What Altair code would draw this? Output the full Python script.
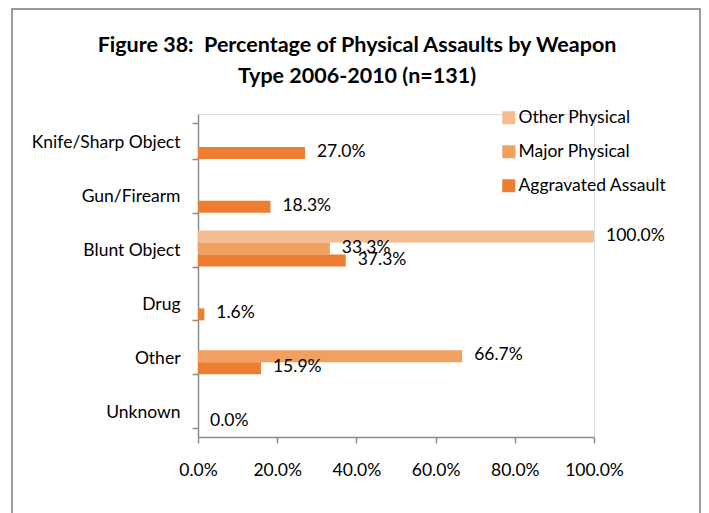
import altair as alt
import pandas as pd

categories = ["Knife/Sharp Object", "Gun/Firearm", "Blunt Object", "Drug", "Other", "Unknown"]
series = ["Other Physical", "Major Physical", "Aggravated Assault"]
aggravated = [27.0, 18.3, 37.3, 1.6, 15.9, 0.0]
major = [None, None, 33.3, None, 66.7, None]
other = [None, None, 100.0, None, None, None]
colors = ["#F4BC8F", "#F1A060", "#ED7D31"]
x_ticks = [0, 0.2, 0.4, 0.6, 0.8, 1.0]

rows = []
for name, vals in zip(series, [other, major, aggravated]):
    for c, v in zip(categories, vals):
        if v is not None:
            rows.append({"category": c, "series": name, "value": v / 100})
df = pd.DataFrame(rows)

FONT = "Lato, sans-serif"
FS = 17.5

y_enc = alt.Y("category:N", sort=categories,
              scale=alt.Scale(paddingInner=0.33, paddingOuter=0.165),
              axis=alt.Axis(title=None, labelFontSize=FS, labelFont=FONT, labelColor="#000",
                            labelPadding=12, labelOffset=2, tickBand="extent", tickSize=6,
                            tickColor="#8c8c8c", domainColor="#8c8c8c", domainWidth=1.5, tickWidth=1.5))
x_enc = alt.X("value:Q", scale=alt.Scale(domain=[0, 1]),
              axis=alt.Axis(title=None, format=".1%", values=x_ticks, grid=False, labelOverlap=False,
                            labelFlush=False,
                            labelFontSize=FS, labelFont=FONT, labelColor="#000", labelPadding=18,
                            tickSize=6, tickColor="#8c8c8c", domainColor="#8c8c8c",
                            domainWidth=1.5, tickWidth=1.5))
yoff = alt.YOffset("series:N", sort=series, scale=alt.Scale(domain=series, paddingInner=0, paddingOuter=0))

bars = alt.Chart(df).mark_bar(size=12).encode(
    y=y_enc, x=x_enc, yOffset=yoff,
    color=alt.Color("series:N", scale=alt.Scale(domain=series, range=colors),
                    legend=alt.Legend(title=None, orient="none", legendX=302, legendY=-5,
                                      symbolType="square", symbolSize=169, symbolStrokeWidth=0,
                                      labelFontSize=FS, labelFont=FONT, labelColor="#000",
                                      labelLimit=0, rowPadding=15, labelOffset=1)),
)

labels = alt.Chart(df).mark_text(align="left", baseline="middle", dx=12, dy=-1, fontSize=FS,
                                 font=FONT, color="#000").encode(
    y=alt.Y("category:N", sort=categories), x=alt.X("value:Q"), yOffset=yoff,
    text=alt.Text("value:Q", format=".1%"),
)

frame = alt.Chart(pd.DataFrame({"a": [0]})).mark_rect(fill=None, stroke="#9a9a9a", strokeWidth=2).encode(
    x=alt.value(-186), x2=alt.value(502), y=alt.value(-105), y2=alt.value(440)
)

chart = alt.layer(frame, bars, labels).properties(
    width=396, height=323,
    autosize=alt.AutoSizeParams(type="none"),
    padding={"left": 190, "top": 106, "right": 107, "bottom": 76},
    title=alt.TitleParams(
        text=["Figure 38:\u00a0 Percentage of Physical Assaults by Weapon", "Type 2006-2010 (n=131)"],
        font=FONT, fontSize=21.5, fontWeight="bold", color="#000", anchor="middle", frame="group",
        dx=-39, dy=79, offset=0, lineHeight=31,
    ),
).configure_view(stroke=None).configure(background="white")

chart.save("out.html", embed_options={"renderer": "svg", "actions": False})
